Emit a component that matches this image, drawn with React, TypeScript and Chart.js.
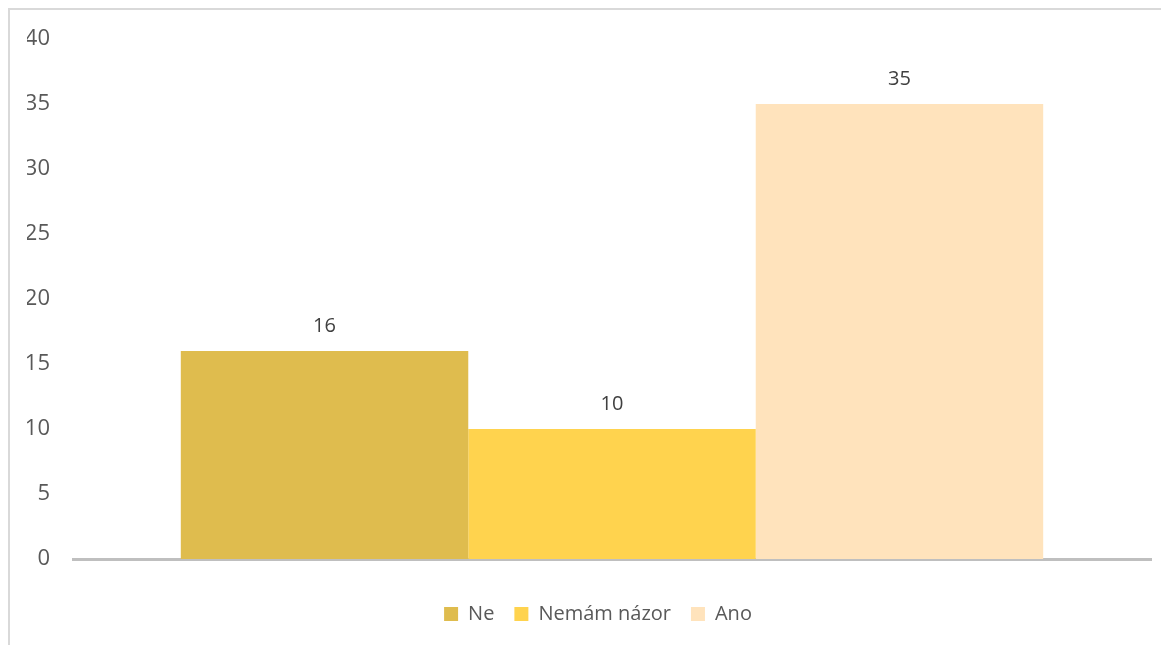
import React, { useEffect, useRef } from "react";
import { Chart, registerables } from "chart.js";

Chart.register(...registerables);

const categories = [""];
const seriesNames = ["Ne", "Nemám názor", "Ano"];
const seriesValues = [16, 10, 35];
const seriesColors = ["#DFBC4E", "#FFD34E", "#FFE3BC"];
const yMin = 0;
const yMax = 40;
const yStep = 5;

const FONT = "'Open Sans', 'DejaVu Sans', sans-serif";

const valueLabels = {
  id: "valueLabels",
  afterDatasetsDraw(chart: any) {
    const ctx = chart.ctx;
    ctx.save();
    ctx.font = `20px ${FONT}`;
    ctx.fillStyle = "#404040";
    ctx.textAlign = "center";
    ctx.textBaseline = "middle";
    chart.data.datasets.forEach((ds: any, i: number) => {
      const meta = chart.getDatasetMeta(i);
      meta.data.forEach((el: any, j: number) => {
        ctx.fillText(String(ds.data[j]), el.x, el.y - 25);
      });
    });
    ctx.restore();
  },
};

export default function App() {
  const ref = useRef<HTMLCanvasElement>(null);

  useEffect(() => {
    if (!ref.current) return;
    const chart = new Chart(ref.current, {
      type: "bar",
      data: {
        labels: categories,
        datasets: seriesNames.map((name, i) => ({
          label: name,
          data: [seriesValues[i]],
          backgroundColor: seriesColors[i],
          borderWidth: 0,
          categoryPercentage: 0.8,
          barPercentage: 1,
        })),
      },
      options: {
        responsive: false,
        animation: false,
        devicePixelRatio: 1,
        layout: { padding: { top: 29, left: 17, right: 0, bottom: 11 } },
        plugins: {
          tooltip: { enabled: false },
          legend: {
            position: "bottom",
            labels: {
              boxWidth: 14,
              boxHeight: 14,
              padding: 20,
              color: "#595959",
              font: { family: FONT, size: 20 },
            },
          },
        },
        scales: {
          x: {
            grid: { display: false },
            ticks: { display: false },
            border: { display: true, color: "#BFBFBF", width: 3 },
            afterFit(s: any) {
              s.height = 25;
            },
          },
          y: {
            min: yMin,
            max: yMax,
            grid: { display: false, drawTicks: false },
            border: { display: false },
            ticks: {
              stepSize: yStep,
              padding: 23,
              color: "#595959",
              font: { family: FONT, size: 22 },
            },
            afterFit(s: any) {
              s.width = 46;
              s.paddingTop = 0;
              s.paddingBottom = 0;
            },
          },
          y2: {
            position: "right",
            grid: { display: false, drawTicks: false },
            border: { display: false },
            ticks: { display: false },
            afterFit(s: any) {
              s.width = 18;
              s.paddingTop = 0;
              s.paddingBottom = 0;
            },
          },
        },
      },
      plugins: [valueLabels],
    } as any);
    return () => chart.destroy();
  }, []);

  return (
    <div
      style={{
        width: 1161,
        height: 637,
        boxSizing: "border-box",
        borderTop: "2px solid #D9D9D9",
        borderLeft: "2px solid #D9D9D9",
        overflow: "hidden",
      }}
    >
      <canvas ref={ref} width={1159} height={635} style={{ display: "block" }} />
    </div>
  );
}
